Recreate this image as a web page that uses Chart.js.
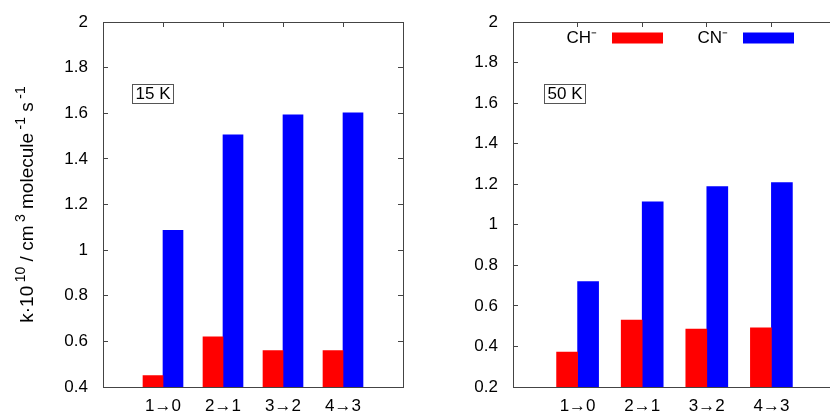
<!DOCTYPE html>
<html>
<head>
<meta charset="utf-8">
<script src="https://cdn.jsdelivr.net/npm/chart.js@4"></script>
<style>
  body { margin: 0; width: 830px; height: 418px; overflow: hidden; background: #fff; position: relative; }
  .panel { position: absolute; top: 0; height: 418px; }
  #p15 { left: 0; width: 415px; }
  #p50 { left: 415px; width: 430px; }
</style>
</head>
<body>
<div class="panel" id="p15"><canvas id="chart15"></canvas></div>
<div class="panel" id="p50"><canvas id="chart50"></canvas></div>
<script>
// rotational transitions on the x axis
const transitions = ['1→0', '2→1', '3→2', '4→3']
// rate coefficients k x 1e10 (cm^3 molecule^-1 s^-1)
const ch15 = [0.45, 0.62, 0.56, 0.56]
const cn15 = [1.087, 1.505, 1.593, 1.602]
const ch50 = [0.372, 0.53, 0.486, 0.492]
const cn50 = [0.72, 1.113, 1.188, 1.208]
const seriesNames = ['CH⁻', 'CN⁻']
const seriesColors = ['#ff0000', '#0000ff']
const yStep = 0.2
const yMax = 2

const frame = '#444'
const fontFamily = '"Liberation Sans", Arial, sans-serif'

// empty slot on each side so the groups sit away from the frame
const slots = ['', ...transitions, '']
const pad = arr => [null, ...arr, null]

const fmt = v => String(parseFloat(Number(v).toFixed(1)))

// y title pieces: [text, superscript?]
const yTitleParts = [['k·10', 0], ['10', 1], [' / cm', 0], ['3', 1], [' molecule', 0], ['-1', 1], [' s', 0], ['-1', 1]]

// rotated axis title with real superscripts
const yTitle = {
  id: 'yTitle',
  afterDraw(chart, args, opts) {
    if (!opts.parts) return
    const { ctx, chartArea: a } = chart
    const base = '19px ' + fontFamily
    const sup = '14px ' + fontFamily
    ctx.save()
    ctx.translate(opts.x, (a.top + a.bottom) / 2)
    ctx.rotate(-Math.PI / 2)
    let total = 0
    opts.parts.forEach(([t, s]) => {
      ctx.font = s ? sup : base
      total += ctx.measureText(t).width + (s ? 3.5 : 0)
    })
    let x = -total / 2
    ctx.fillStyle = '#000'
    ctx.textBaseline = 'alphabetic'
    ctx.textAlign = 'left'
    opts.parts.forEach(([t, s]) => {
      ctx.font = s ? sup : base
      if (s) x += 3.5
      ctx.fillText(t, x, s ? -8 : 0)
      x += ctx.measureText(t).width
    })
    ctx.restore()
  }
}

// temperature tag and the key drawn inside the plot box
const annotations = {
  id: 'annotations',
  afterDraw(chart, args, opts) {
    const { ctx, chartArea: a } = chart
    ctx.save()
    ctx.font = '17px ' + fontFamily
    ctx.textBaseline = 'middle'

    // boxed temperature label
    const w = ctx.measureText(opts.temp).width + 6
    ctx.strokeStyle = '#555'
    ctx.lineWidth = 1
    ctx.strokeRect(Math.round(a.left + opts.tagX) + 0.5, a.top + 62.5, Math.round(w), 19)
    ctx.fillStyle = '#000'
    ctx.textAlign = 'left'
    ctx.fillText(opts.temp, Math.round(a.left + opts.tagX) + 3.5, a.top + 72.5)

    if (opts.key) {
      chart.data.datasets.forEach((ds, i) => {
        const boxLeft = a.left + 99 + i * 131
        const y = a.top + 16
        ctx.fillStyle = '#000'
        ctx.textAlign = 'right'
        ctx.fillText(ds.label, boxLeft - 15, y)
        ctx.fillStyle = ds.backgroundColor
        ctx.fillRect(boxLeft, y - 5.5, 51, 11)
      })
    }
    ctx.restore()
  }
}

function makePanel(id, ch, cn, yMin, temp, opt) {
  const grid = { drawOnChartArea: false, tickLength: -5, color: frame, offset: false }
  const border = { color: frame, width: 1 }
  return new Chart(document.getElementById(id).getContext('2d'), {
    type: 'bar',
    data: {
      labels: slots,
      datasets: [
        { label: seriesNames[0], data: pad(ch), backgroundColor: seriesColors[0], barThickness: opt.barW },
        { label: seriesNames[1], data: pad(cn), backgroundColor: seriesColors[1], barThickness: opt.barW }
      ]
    },
    options: {
      responsive: true,
      maintainAspectRatio: false,
      animation: false,
      layout: { padding: 0 },
      plugins: {
        legend: { display: false },
        tooltip: { enabled: false },
        annotations: { temp: temp, tagX: opt.tagX, key: opt.key },
        yTitle: { parts: opt.title ? yTitleParts : null, x: 33 }
      },
      scales: {
        x: {
          type: 'category', offset: false, grid: grid, border: border,
          ticks: { color: '#000', font: { family: fontFamily, size: 17 }, padding: 14, autoSkip: false, maxRotation: 0 },
          afterFit: s => { s.height = 31; s.paddingLeft = 0; s.paddingRight = 0 }
        },
        x2: {
          type: 'category', position: 'top', labels: slots, offset: false, grid: grid, border: border,
          ticks: { display: false },
          afterFit: s => { s.height = 22; s.paddingLeft = 0; s.paddingRight = 0 }
        },
        y: {
          min: yMin, max: yMax, grid: grid, border: border,
          ticks: { stepSize: yStep, color: '#000', font: { family: fontFamily, size: 17 }, padding: 20, callback: fmt },
          afterFit: s => { s.width = opt.leftW; s.paddingTop = 0; s.paddingBottom = 0 }
        },
        y2: {
          position: 'right', min: yMin, max: yMax, grid: grid, border: border,
          ticks: { stepSize: yStep, display: false },
          afterFit: s => { s.width = opt.rightW; s.paddingTop = 0; s.paddingBottom = 0 }
        }
      }
    },
    plugins: [annotations, yTitle]
  })
}

makePanel('chart15', ch15, cn15, 0.4, '15 K', { leftW: 103, rightW: 12, barW: 20, tagX: 29, title: true, key: false })
makePanel('chart50', ch50, cn50, 0.2, '50 K', { leftW: 98, rightW: 9, barW: 21, tagX: 31, title: false, key: true })
</script>
</body>
</html>
